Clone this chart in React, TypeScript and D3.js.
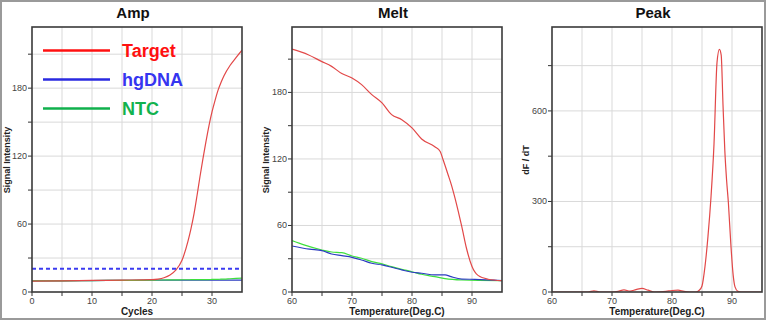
import React from "react";
import * as d3 from "d3";

// ---------- DATA ----------
const ampCycles = [0, 5, 10, 15, 20, 21, 22, 23, 24, 25, 26, 26.5, 27, 27.5, 28, 28.5, 29, 29.5, 30, 30.5, 31, 31.5, 32, 33, 34, 35];
const ampTarget = [9.6, 9.8, 10.2, 10.5, 10.9, 11.4, 12.6, 15, 19.5, 28, 45, 56, 69, 85, 102, 118, 133, 147, 159, 169, 178, 185, 191, 200, 207, 213.5];
const ampHgDNA = [9.8, 9.9, 10.1, 10.3, 10.5, 10.5, 10.5, 10.5, 10.5, 10.5, 10.5, 10.5, 10.5, 10.5, 10.5, 10.5, 10.5, 10.5, 10.5, 10.5, 10.5, 10.5, 10.5, 10.4, 10.4, 10.4];
const ampNTC = [9.8, 9.9, 10.1, 10.3, 10.5, 10.6, 10.6, 10.7, 10.7, 10.8, 10.8, 10.85, 10.9, 10.9, 10.9, 11.0, 11.0, 11.0, 11.1, 11.1, 11.2, 11.3, 11.4, 11.7, 12.0, 12.3];
const ampThreshold = 20.5;

const meltTemps = [60, 62.7, 64.9, 66.6, 68.3, 70, 71.6, 73.3, 75, 76.6, 78.3, 80, 81.6, 83.8, 84.7, 85.2, 86, 86.6, 87.2, 87.7, 88.3, 89.1, 90, 91, 92.7, 95];
const meltTarget = [219, 214, 208, 203.5, 197, 193, 187, 178, 170.5, 160, 155.4, 148, 138, 131, 126.7, 119, 106, 96, 84, 73, 59, 39, 23, 15, 11.5, 10.2];
const meltHgTemps = [60, 62.9, 65, 66.6, 68.3, 70, 71.6, 73.3, 75, 76.6, 78.3, 80, 81.6, 83.8, 85.5, 86.5, 88.3, 90.5, 95];
const meltHgDNA = [41.5, 38.6, 37.3, 34.3, 32.8, 31.3, 28.9, 25.9, 24.4, 22.3, 19.9, 17.8, 16.9, 15.4, 15.4, 13.8, 11.7, 11.4, 10.2];
const meltNtcTemps = [60, 62, 65, 66.6, 68.3, 70, 71.6, 73.3, 75, 76.6, 78.3, 80, 81.6, 83.8, 85.5, 88.3, 95];
const meltNTC = [46.4, 42.5, 37.9, 36.1, 35.5, 32.5, 30.4, 27.4, 25.3, 22.9, 20.5, 18.3, 16, 13.8, 12, 10.8, 10.2];

const peakTemps = [60, 66, 67, 68, 70, 71, 72, 73, 74, 75, 76, 77, 79, 80, 81, 82, 83, 84, 84.5, 85, 85.5, 86, 86.5, 87, 87.5, 87.9, 88.2, 88.5, 88.8, 89.1, 89.4, 89.8, 90.2, 90.5, 91, 91.5, 95];
const peakTarget = [0, 0, 4, 0, 0, 2, 7, 3, 8, 12, 6, 0, 2, 5, 6, 2, 0, 0, 5, 20, 85, 185, 315, 490, 760, 804, 785, 620, 470, 370, 295, 160, 55, 17, 2, 0, 0];

const legendNames = ["Target", "hgDNA", "NTC"];
const legendTextColors = ["#ff1010", "#3535f0", "#12b24e"];
const legendLineColors = ["#ff1010", "#2a2ae0", "#10b04c"];

const lineRed = "#e24848";
const lineBlue = "#2b3bc0";
const lineGreen = "#3ee03e";

const W = 767;
const H = 321;
const TOP = 27;
const BOTTOM = 292;

type Series = { xs: number[]; ys: number[]; color: string; width?: number; dash?: string };

type PanelProps = {
  title: string;
  x0: number;
  x1: number;
  xDomain: [number, number];
  yDomain: [number, number];
  xGrid: number[];
  xLabels: number[];
  yGrid: number[];
  yLabels: number[];
  xTitle: string;
  yTitle: string;
  yTitleX: number;
  series: Series[];
  children?: React.ReactNode;
};

const FONT = "'Liberation Sans', Arial, sans-serif";

function Panel(p: PanelProps) {
  const x = d3.scaleLinear().domain(p.xDomain).range([p.x0, p.x1]);
  const y = d3.scaleLinear().domain(p.yDomain).range([BOTTOM, TOP]);
  const line = d3
    .line<[number, number]>()
    .x((d) => x(d[0]))
    .y((d) => y(d[1]))
    .curve(d3.curveMonotoneX);
  const cx = (p.x0 + p.x1) / 2;
  const clipId = "clip" + p.title;
  return (
    <g>
      <defs>
        <clipPath id={clipId}>
          <rect x={p.x0} y={TOP} width={p.x1 - p.x0} height={BOTTOM - TOP} />
        </clipPath>
      </defs>
      <text x={cx - 4} y={18} textAnchor="middle" fontFamily={FONT} fontWeight="bold" fontSize={15} fill="#111">
        {p.title}
      </text>
      {p.xGrid.map((v) => (
        <line key={"xg" + v} x1={x(v)} x2={x(v)} y1={TOP} y2={BOTTOM} stroke="#d9d9d9" strokeWidth={1} />
      ))}
      {p.yGrid.map((v) => (
        <line key={"yg" + v} x1={p.x0} x2={p.x1} y1={y(v)} y2={y(v)} stroke="#d9d9d9" strokeWidth={1} />
      ))}
      {p.xGrid.concat([p.xDomain[0]]).map((v) => (
        <line key={"xt" + v} x1={x(v)} x2={x(v)} y1={BOTTOM} y2={BOTTOM + 4} stroke="#333" strokeWidth={1} />
      ))}
      {p.yGrid.concat([p.yDomain[0]]).map((v) => (
        <line key={"yt" + v} x1={p.x0 - 4} x2={p.x0} y1={y(v)} y2={y(v)} stroke="#333" strokeWidth={1} />
      ))}
      {p.xLabels.map((v) => (
        <text key={"xl" + v} x={x(v)} y={BOTTOM + 12} textAnchor="middle" fontFamily={FONT} fontSize={9} fill="#444">
          {v}
        </text>
      ))}
      {p.yLabels.map((v) => (
        <text key={"yl" + v} x={p.x0 - 5} y={y(v) + 3} textAnchor="end" fontFamily={FONT} fontSize={9} fill="#444">
          {v}
        </text>
      ))}
      <g clipPath={`url(#${clipId})`}>
        {p.series.map((s, i) => (
          <path
            key={i}
            d={line(s.xs.map((v, j) => [v, s.ys[j]] as [number, number])) || ""}
            fill="none"
            stroke={s.color}
            strokeWidth={s.width ?? 1.2}
            strokeDasharray={s.dash}
          />
        ))}
      </g>
      <rect x={p.x0} y={TOP} width={p.x1 - p.x0} height={BOTTOM - TOP} fill="none" stroke="#3a3a3a" strokeWidth={1.6} />
      <text x={cx} y={315} textAnchor="middle" fontFamily={FONT} fontWeight="bold" fontSize={10} fill="#222">
        {p.xTitle}
      </text>
      <text
        transform={`translate(${p.yTitleX},160) rotate(-90)`}
        textAnchor="middle"
        fontFamily={FONT}
        fontWeight="bold"
        fontSize={9}
        fill="#222"
      >
        {p.yTitle}
      </text>
      {p.children}
    </g>
  );
}

export default function App() {
  const range = (a: number, b: number, s: number) => d3.range(a, b + 0.001, s);
  return (
    <svg
      width={W}
      height={H}
      style={{ position: "absolute", left: 0, top: 0, background: "#fff" }}
    >
      <rect x={0} y={0} width={W} height={H} fill="#fff" />
      <rect x={1} y={1} width={W - 3} height={H - 3} fill="none" stroke="#9a9a9a" strokeWidth={2} />
      <Panel
        title="Amp"
        x0={32}
        x1={242}
        xDomain={[0, 35]}
        yDomain={[0, 234]}
        xGrid={range(5, 30, 5)}
        xLabels={[0, 10, 20, 30]}
        yGrid={range(30, 210, 30)}
        yLabels={[0, 60, 120, 180]}
        xTitle="Cycles"
        yTitle="Signal Intensity"
        yTitleX={10}
        series={[
          { xs: ampCycles, ys: ampHgDNA, color: lineBlue },
          { xs: ampCycles, ys: ampNTC, color: lineGreen },
          { xs: ampCycles, ys: ampTarget, color: lineRed },
          { xs: [0, 35], ys: [ampThreshold, ampThreshold], color: "#3b3bf0", width: 2, dash: "4,3" },
        ]}
      >
        {legendNames.map((n, i) => (
          <g key={n}>
            <line x1={43} x2={110} y1={50.5 + i * 29} y2={50.5 + i * 29} stroke={legendLineColors[i]} strokeWidth={2.5} />
            <text x={122} y={56.5 + i * 29} fontFamily={FONT} fontWeight="bold" fontSize={18} fill={legendTextColors[i]}>
              {n}
            </text>
          </g>
        ))}
      </Panel>
      <Panel
        title="Melt"
        x0={292}
        x1={502}
        xDomain={[60, 95]}
        yDomain={[0, 239]}
        xGrid={range(65, 90, 5)}
        xLabels={[60, 70, 80, 90]}
        yGrid={range(30, 210, 30)}
        yLabels={[0, 60, 120, 180]}
        xTitle="Temperature(Deg.C)"
        yTitle="Signal Intensity"
        yTitleX={269}
        series={[
          { xs: meltNtcTemps, ys: meltNTC, color: lineGreen },
          { xs: meltHgTemps, ys: meltHgDNA, color: lineBlue },
          { xs: meltTemps, ys: meltTarget, color: lineRed },
        ]}
      />
      <Panel
        title="Peak"
        x0={552}
        x1={762}
        xDomain={[60, 95]}
        yDomain={[0, 878]}
        xGrid={range(65, 90, 5)}
        xLabels={[60, 70, 80, 90]}
        yGrid={range(150, 750, 150)}
        yLabels={[0, 300, 600]}
        xTitle="Temperature(Deg.C)"
        yTitle="dF / dT"
        yTitleX={529}
        series={[{ xs: peakTemps, ys: peakTarget, color: lineRed }]}
      />
    </svg>
  );
}
